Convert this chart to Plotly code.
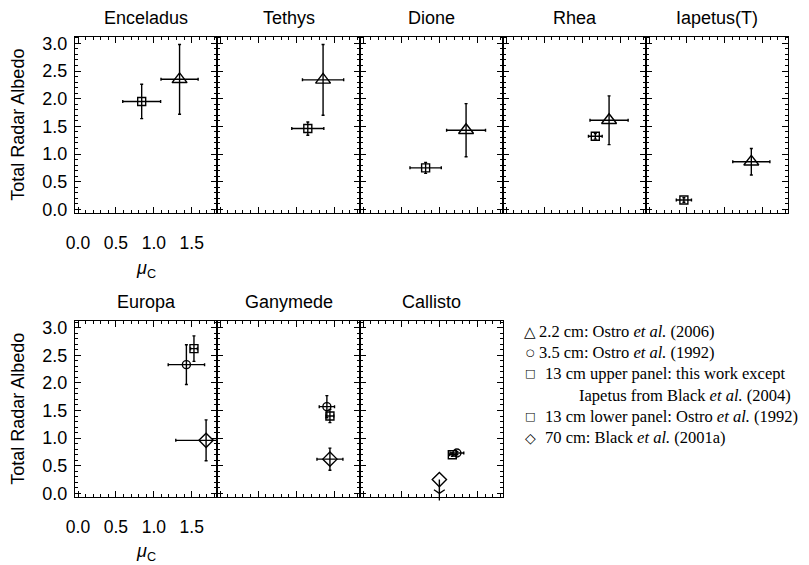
import plotly.graph_objects as go

# ---------------- data ----------------
top_moons = ["Enceladus", "Tethys", "Dione", "Rhea", "Iapetus(T)"]
# 2.2 cm triangles (Ostro et al. 2006)
tri_x = [1.34, 1.35, 1.35, 1.35, 1.35]
tri_y = [2.35, 2.34, 1.43, 1.61, 0.86]
tri_xerr = [0.245, 0.27, 0.255, 0.25, 0.245]
tri_yerr = [0.63, 0.64, 0.48, 0.44, 0.24]
# 13 cm upper-panel squares
sq_up_x = [0.84, 1.15, 0.82, 1.17, 0.46]
sq_up_y = [1.95, 1.46, 0.75, 1.32, 0.17]
sq_up_xerr = [0.25, 0.21, 0.205, 0.09, 0.10]
sq_up_yerr = [0.31, 0.12, 0.10, 0.05, 0.04]

bottom_moons = ["Europa", "Ganymede", "Callisto"]
# 3.5 cm circles (Ostro et al. 1992)
circ_x = [1.43, 1.40, 1.23]
circ_y = [2.33, 1.57, 0.73]
circ_xerr = [0.24, 0.10, 0.09]
circ_yerr = [0.36, 0.20, 0.03]
# 13 cm lower-panel squares (Ostro et al. 1992)
sq_lo_x = [1.53, 1.44, 1.17]
sq_lo_y = [2.62, 1.40, 0.70]
sq_lo_xerr = [0.045, 0.05, 0.04]
sq_lo_yerr = [0.23, 0.12, 0.03]
# 70 cm diamonds (Black et al. 2001a); Callisto is an upper limit
dia_x = [1.69, 1.44, 1.00]
dia_y = [0.96, 0.62, 0.25]
dia_xerr = [0.40, 0.17, 0.0]
dia_yerr = [0.37, 0.20, 0.0]
dia_upper_limit = [False, False, True]

x_ticks = [0.0, 0.5, 1.0, 1.5]
x_tick_text = ["0.0", "0.5", "1.0", "1.5"]
y_ticks = [0.0, 0.5, 1.0, 1.5, 2.0, 2.5, 3.0]
y_tick_text = ["0.0", "0.5", "1.0", "1.5", "2.0", "2.5", "3.0"]
x_range = [-0.04, 1.834]
y_range = [-0.06, 3.12]

legend_symbols = ["\u25b3", "\u25cb", "\u25a1", "", "\u25a1", "\u25c7"]
legend_symbol_sizes = [15, 10, 11, 0, 11, 14]
legend_texts = [
    "2.2 cm: Ostro <i>et al.</i> (2006)",
    "3.5 cm: Ostro <i>et al.</i> (1992)",
    "13 cm upper panel: this work except",
    "Iapetus from Black <i>et al.</i> (2004)",
    "13 cm lower panel: Ostro <i>et al.</i> (1992)",
    "70 cm: Black <i>et al.</i> (2001a)",
]

# ---------------- layout geometry ----------------
W, H = 809, 565
col_edges = [75, 217, 360, 503, 646, 788]
top_rows = (36.7, 212.7)
bot_rows = (321.0, 496.7)

def px_x(p):
    return p / W

def px_y(p):
    return 1 - p / H

SANS = "Liberation Sans, Arial, Helvetica, sans-serif"
SERIF = "Liberation Serif, Times New Roman, serif"

fig = go.Figure()
layout = dict(
    template="none",
    width=W, height=H, margin=dict(l=0, r=0, t=0, b=0, autoexpand=False),
    paper_bgcolor="white", plot_bgcolor="white", showlegend=False,
    font=dict(family=SANS, size=17, color="black"),
)

def axis_common():
    return dict(
        showline=True, linecolor="black", linewidth=1.1, mirror="allticks",
        ticks="inside", ticklen=6, tickwidth=1, tickcolor="black",
        showgrid=False, zeroline=False, automargin=False,
        minor=dict(ticks="inside", ticklen=3, tickwidth=1, tickcolor="black"),
    )

def add_panel(idx, col, rows, show_labels):
    xa = axis_common()
    xa.update(domain=[px_x(col_edges[col]), px_x(col_edges[col + 1])],
              range=x_range, anchor="y%d" % idx if idx > 1 else "y",
              tickvals=x_ticks, ticktext=x_tick_text,
              showticklabels=show_labels, ticklabelstandoff=14,
              tickfont=dict(size=17.5, family=SANS))
    xa["minor"]["dtick"] = 0.1
    ya = axis_common()
    ya.update(domain=[px_y(rows[1]), px_y(rows[0])], range=y_range,
              anchor="x%d" % idx if idx > 1 else "x", tickvals=y_ticks,
              ticktext=y_tick_text,
              showticklabels=show_labels, ticklabelstandoff=3,
              tickfont=dict(size=18, family=SANS))
    ya["minor"]["dtick"] = 0.1
    layout["xaxis" if idx == 1 else "xaxis%d" % idx] = xa
    layout["yaxis" if idx == 1 else "yaxis%d" % idx] = ya

def err(arr, minus=None):
    d = dict(type="data", array=[arr], visible=True, color="black",
             thickness=1.4, width=1.5)
    if minus is not None:
        d.update(symmetric=False, arrayminus=[minus], width=0)
    return d

def axref(prefix, idx):
    return prefix if idx == 1 else "%s%d" % (prefix, idx)

def add_point(idx, x, y, xe, ye, symbol, size):
    tr = dict(x=[x], y=[y], mode="markers", xaxis=axref("x", idx), yaxis=axref("y", idx),
              marker=dict(symbol=symbol, size=size, color="black",
                          line=dict(color="black", width=1.4)),
              cliponaxis=True, hoverinfo="skip")
    if xe > 0:
        tr["error_x"] = err(xe)
    if ye > 0:
        tr["error_y"] = err(ye)
    fig.add_trace(go.Scatter(**tr))

def add_upper_limit(idx, x, y):
    # stem from the point down to zero
    fig.add_trace(go.Scatter(x=[x], y=[y], mode="markers", xaxis=axref("x", idx),
                             yaxis=axref("y", idx), marker=dict(size=0.1, color="black"),
                             error_y=err(0, minus=y), hoverinfo="skip"))
    # arrow head (V) at the bottom of the stem
    fig.add_trace(go.Scatter(x=[x], y=[0.0], mode="markers", xaxis=axref("x", idx),
                             yaxis=axref("y", idx),
                             marker=dict(symbol="y-down-open", size=9, color="black",
                                         line=dict(color="black", width=1.3)),
                             hoverinfo="skip", cliponaxis=False))

annotations = []

# top row
for i, name in enumerate(top_moons):
    idx = i + 1
    add_panel(idx, i, top_rows, i == 0)
    add_point(idx, sq_up_x[i], sq_up_y[i], sq_up_xerr[i], sq_up_yerr[i], "square-open", 8)
    add_point(idx, tri_x[i], tri_y[i], tri_xerr[i], tri_yerr[i], "triangle-up-open", 13)
    annotations.append(dict(text=name, xref="paper", yref="paper",
                            x=px_x((col_edges[i] + col_edges[i + 1]) / 2), y=px_y(18),
                            showarrow=False, xanchor="center", yanchor="middle",
                            font=dict(size=18, family=SANS)))

# bottom row
for i, name in enumerate(bottom_moons):
    idx = i + 6
    add_panel(idx, i, bot_rows, i == 0)
    if dia_upper_limit[i]:
        add_upper_limit(idx, dia_x[i], dia_y[i])
    add_point(idx, circ_x[i], circ_y[i], circ_xerr[i], circ_yerr[i], "circle-open", 8)
    add_point(idx, sq_lo_x[i], sq_lo_y[i], sq_lo_xerr[i], sq_lo_yerr[i], "square-open", 8)
    add_point(idx, dia_x[i], dia_y[i], dia_xerr[i], dia_yerr[i], "diamond-open", 11)
    annotations.append(dict(text=name, xref="paper", yref="paper",
                            x=px_x((col_edges[i] + col_edges[i + 1]) / 2), y=px_y(301.7),
                            showarrow=False, xanchor="center", yanchor="middle",
                            font=dict(size=18, family=SANS)))

# axis titles
for rows, mu_y in ((top_rows, 269), (bot_rows, 552)):
    annotations.append(dict(text="Total Radar Albedo", textangle=-90,
                            xref="paper", yref="paper", x=px_x(18),
                            y=px_y((rows[0] + rows[1]) / 2), showarrow=False,
                            xanchor="center", yanchor="middle",
                            font=dict(size=18, family=SANS)))
    annotations.append(dict(text="<i>\u03bc</i><sub>C</sub>", xref="paper", yref="paper",
                            x=px_x(146), y=px_y(mu_y), showarrow=False,
                            xanchor="center", yanchor="middle",
                            font=dict(size=18, family=SANS)))

# legend text
leg_y = [331.7, 352.7, 373.9, 395.0, 416.3, 437.7]
leg_text_x = [537, 537, 543, 577, 543, 543]
for sym, ssz, txt, yy, tx in zip(legend_symbols, legend_symbol_sizes, legend_texts, leg_y, leg_text_x):
    if sym:
        annotations.append(dict(text=sym, xref="paper", yref="paper",
                                x=px_x(530), y=px_y(yy), showarrow=False,
                                xanchor="center", yanchor="middle",
                                font=dict(size=ssz, family="DejaVu Sans")))
    annotations.append(dict(text=txt, xref="paper", yref="paper",
                            x=px_x(tx), y=px_y(yy), showarrow=False,
                            xanchor="left", yanchor="middle",
                            font=dict(size=16.5, family=SERIF)))

layout["annotations"] = annotations
fig.update_layout(**layout)
fig.write_html("out.html",
               config={"displayModeBar": False},
               post_script="document.body.style.margin='0px';document.body.style.padding='0px';")
